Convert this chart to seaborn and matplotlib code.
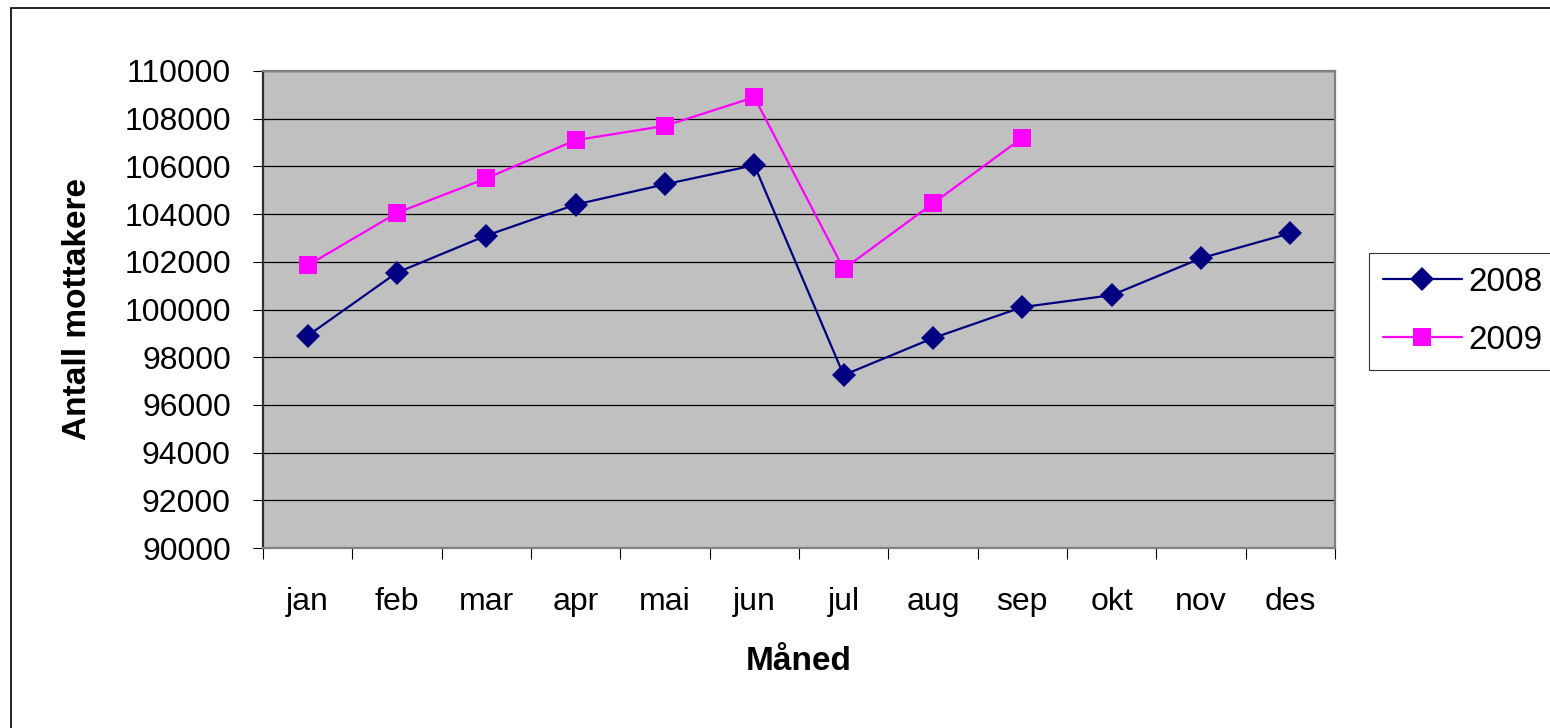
import matplotlib
matplotlib.use("Agg")
import matplotlib.pyplot as plt
from matplotlib.patches import Rectangle
from matplotlib.ticker import FixedLocator
import seaborn as sns
import pandas as pd

months = ["jan", "feb", "mar", "apr", "mai", "jun", "jul", "aug", "sep", "okt", "nov", "des"]
values_2008 = [98900, 101550, 103100, 104400, 105250, 106050, 97250, 98800, 100100, 100600, 102150, 103200]
values_2009 = [101850, 104050, 105500, 107100, 107700, 108900, 101700, 104450, 107200]
series_names = ["2008", "2009"]
y_ticks = list(range(90000, 110001, 2000))

sns.set_theme(style="white")
plt.rcParams["font.family"] = ["Liberation Sans", "DejaVu Sans"]
plt.rcParams["text.color"] = "black"
plt.rcParams["axes.labelcolor"] = "black"
plt.rcParams["xtick.color"] = "black"
plt.rcParams["ytick.color"] = "black"

W, H = 1550, 728
fig = plt.figure(figsize=(W / 100, H / 100), dpi=100)
fig.patch.set_facecolor("white")
ax = fig.add_axes([263 / W, 1 - 548 / H, (1335 - 263) / W, (548 - 71) / H])
ax.set_facecolor("#C0C0C0")

df08 = pd.DataFrame({"month": months, "value": values_2008})
df09 = pd.DataFrame({"month": months[:len(values_2009)], "value": values_2009})

sns.lineplot(data=df08, x="month", y="value", ax=ax, sort=False, errorbar=None,
             color="#000080", linewidth=2.4, marker="D", markersize=12,
             markeredgecolor="#000080", markeredgewidth=0, label=series_names[0])
sns.lineplot(data=df09, x="month", y="value", ax=ax, sort=False, errorbar=None,
             color="#FF00FF", linewidth=2.0, marker="s", markersize=13,
             markeredgecolor="#FF00FF", markeredgewidth=0, label=series_names[1])
ax.lines[0].set_linewidth(2.4)
ax.lines[1].set_linewidth(2.0)

ax.set_xlim(-0.5, len(months) - 0.5)
ax.set_ylim(90000, 110000)
ax.set_yticks(y_ticks)
ax.set_yticklabels([str(v) for v in y_ticks])
ax.set_xticks(range(len(months)))
ax.set_xticklabels(months)
ax.xaxis.set_minor_locator(FixedLocator([i - 0.5 for i in range(len(months) + 1)]))

ax.grid(False)
ax.yaxis.grid(True, color="black", lw=0.9)
ax.set_axisbelow(True)

ax.tick_params(axis="y", which="major", direction="out", length=7.2, width=0.8,
               color="black", left=True, pad=16, labelsize=23, labelcolor="black")
ax.tick_params(axis="x", which="major", length=0, pad=28, labelsize=23, bottom=True,
               labelcolor="black")
ax.tick_params(axis="x", which="minor", direction="out", length=8, width=0.8,
               color="black", bottom=True)

for side in ["top", "right", "bottom"]:
    ax.spines[side].set_color("#808080")
    ax.spines[side].set_linewidth(1.6)
ax.spines["left"].set_color("#303030")
ax.spines["left"].set_linewidth(1.6)

ax.set_xlabel("Måned", fontsize=24, fontweight="bold", color="black")
ax.set_ylabel("Antall mottakere", fontsize=24, fontweight="bold", color="black")
ax.xaxis.label.set_va("center")
ax.yaxis.label.set_va("center")
ax.xaxis.set_label_coords(0.5, (548 - 662) / 477)
ax.yaxis.set_label_coords((78 - 263) / 1072, 0.5)

handles, labels = ax.get_legend_handles_labels()
if ax.get_legend() is not None:
    ax.get_legend().remove()
for h in handles:
    h.set_linewidth(1.6)
leg = fig.legend(handles, labels, loc="upper left",
                 bbox_to_anchor=(1369 / W, 1 - 253 / H), bbox_transform=fig.transFigure,
                 fontsize=24, frameon=True, fancybox=False, borderpad=0.42,
                 labelspacing=0.8, handlelength=2.36, handletextpad=0.2,
                 borderaxespad=0)
leg.get_frame().set_edgecolor("black")
leg.get_frame().set_linewidth(0.8)
for t in leg.get_texts():
    t.set_color("black")

fig.patches.append(Rectangle((11 / W, -0.2), 2.0, 1.2 - 8 / H, transform=fig.transFigure,
                             fill=False, edgecolor="black", lw=1.2))

fig.savefig("out.png", dpi=100, facecolor="white")
